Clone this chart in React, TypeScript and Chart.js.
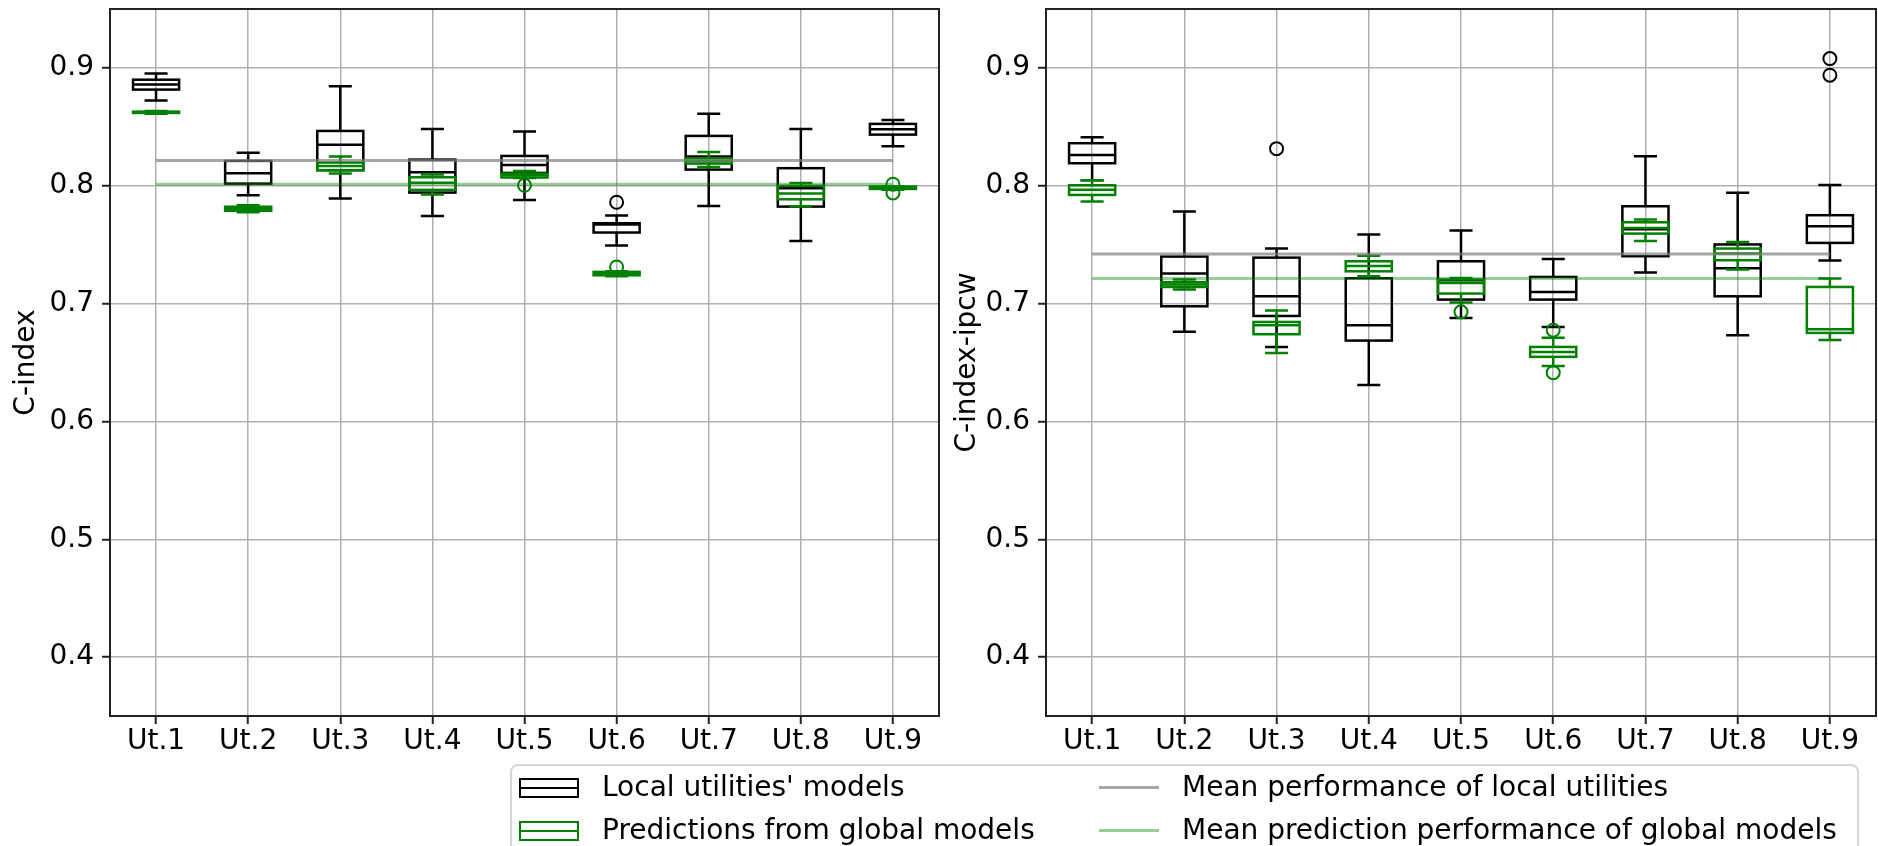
import React, { useEffect, useRef } from "react";
import { Chart, registerables } from "chart.js";
Chart.register(...registerables);

const LABELS = ["Ut.1", "Ut.2", "Ut.3", "Ut.4", "Ut.5", "Ut.6", "Ut.7", "Ut.8", "Ut.9"];
const Y_TICKS = [0.4, 0.5, 0.6, 0.7, 0.8, 0.9];

// ---- Left panel: C-index ----
// Local utilities' models (black)
const CI_LOCAL_LOW = [0.8723, 0.7919, 0.7891, 0.7744, 0.788, 0.7492, 0.7829, 0.7532, 0.8335];
const CI_LOCAL_Q1 = [0.8816, 0.8018, 0.8132, 0.7942, 0.8109, 0.7603, 0.8137, 0.7823, 0.8434];
const CI_LOCAL_MED = [0.8859, 0.8106, 0.8349, 0.8115, 0.8177, 0.7672, 0.8248, 0.7979, 0.848];
const CI_LOCAL_Q3 = [0.89, 0.8211, 0.8465, 0.8222, 0.8253, 0.7682, 0.8423, 0.8149, 0.8525];
const CI_LOCAL_HIGH = [0.8952, 0.8281, 0.8844, 0.8482, 0.846, 0.7747, 0.861, 0.8482, 0.8559];
const CI_LOCAL_OUT = [[], [], [], [], [], [0.786], [], [], []];
// Predictions from global models (green)
const CI_GLOBAL_LOW = [0.861, 0.7775, 0.8103, 0.7925, 0.8065, 0.7232, 0.816, 0.7823, 0.7967];
const CI_GLOBAL_Q1 = [0.8618, 0.7788, 0.8132, 0.7965, 0.807, 0.724, 0.8188, 0.7885, 0.7973];
const CI_GLOBAL_MED = [0.8624, 0.7802, 0.8168, 0.8025, 0.809, 0.7255, 0.8208, 0.7934, 0.7984];
const CI_GLOBAL_Q3 = [0.8629, 0.7822, 0.8197, 0.8072, 0.8103, 0.7269, 0.8231, 0.7999, 0.7993];
const CI_GLOBAL_HIGH = [0.8635, 0.7835, 0.8248, 0.8095, 0.8126, 0.7274, 0.8287, 0.8024, 0.7996];
const CI_GLOBAL_OUT = [[], [], [], [], [0.8004], [0.7311], [], [], [0.8013, 0.7939]];
const CI_MEAN_LOCAL = 0.8214;
const CI_MEAN_GLOBAL = 0.8013;

// ---- Right panel: C-index-ipcw ----
const IPCW_LOCAL_LOW = [0.8047, 0.676, 0.6632, 0.631, 0.6878, 0.6802, 0.7263, 0.6731, 0.7365];
const IPCW_LOCAL_Q1 = [0.8191, 0.6977, 0.6895, 0.6686, 0.7034, 0.7034, 0.7402, 0.7062, 0.7515];
const IPCW_LOCAL_MED = [0.8262, 0.7255, 0.7062, 0.6816, 0.7198, 0.7099, 0.763, 0.73, 0.7656];
const IPCW_LOCAL_Q3 = [0.8361, 0.7399, 0.739, 0.7215, 0.7359, 0.7226, 0.7826, 0.7502, 0.775];
const IPCW_LOCAL_HIGH = [0.8412, 0.7781, 0.7467, 0.7586, 0.762, 0.7379, 0.825, 0.7941, 0.8007];
const IPCW_LOCAL_OUT = [[], [], [0.8315], [], [], [], [], [], [0.8938, 0.9079]];
const IPCW_GLOBAL_LOW = [0.7866, 0.7119, 0.6581, 0.7232, 0.7009, 0.6471, 0.7532, 0.7289, 0.6692];
const IPCW_GLOBAL_Q1 = [0.7922, 0.7141, 0.674, 0.7274, 0.7085, 0.6548, 0.7594, 0.7368, 0.6751];
const IPCW_GLOBAL_MED = [0.7967, 0.7161, 0.6816, 0.732, 0.7175, 0.659, 0.7642, 0.7424, 0.6782];
const IPCW_GLOBAL_Q3 = [0.8004, 0.7181, 0.6844, 0.7359, 0.7204, 0.6632, 0.769, 0.7467, 0.7141];
const IPCW_GLOBAL_HIGH = [0.8047, 0.7204, 0.6941, 0.7407, 0.7218, 0.6711, 0.7713, 0.7522, 0.7212];
const IPCW_GLOBAL_OUT = [[], [], [], [], [0.693], [0.6774, 0.6414], [], [], []];
const IPCW_MEAN_LOCAL = 0.7421;
const IPCW_MEAN_GLOBAL = 0.7212;

const LOCAL_COLOR = "#000000";
const GLOBAL_COLOR = "#008000";
const MEAN_LOCAL_COLOR = "rgba(128,128,128,0.7)";
const MEAN_GLOBAL_COLOR = "rgba(0,128,0,0.4)";
const FONT = "'DejaVu Sans', sans-serif";

type Series = { low: number[]; q1: number[]; med: number[]; q3: number[]; high: number[]; out: number[][]; color: string };

type Panel = {
  title: string;
  local: Series;
  global: Series;
  meanLocal: number;
  meanGlobal: number;
  axisWidth: number;
  titlePad: number;
  padRight: number;
  canvasWidth: number;
};

const PANELS: Panel[] = [
  {
    title: "C-index",
    local: { low: CI_LOCAL_LOW, q1: CI_LOCAL_Q1, med: CI_LOCAL_MED, q3: CI_LOCAL_Q3, high: CI_LOCAL_HIGH, out: CI_LOCAL_OUT, color: LOCAL_COLOR },
    global: { low: CI_GLOBAL_LOW, q1: CI_GLOBAL_Q1, med: CI_GLOBAL_MED, q3: CI_GLOBAL_Q3, high: CI_GLOBAL_HIGH, out: CI_GLOBAL_OUT, color: GLOBAL_COLOR },
    meanLocal: CI_MEAN_LOCAL,
    meanGlobal: CI_MEAN_GLOBAL,
    axisWidth: 110,
    titlePad: 10,
    padRight: 11,
    canvasWidth: 950,
  },
  {
    title: "C-index-ipcw",
    local: { low: IPCW_LOCAL_LOW, q1: IPCW_LOCAL_Q1, med: IPCW_LOCAL_MED, q3: IPCW_LOCAL_Q3, high: IPCW_LOCAL_HIGH, out: IPCW_LOCAL_OUT, color: LOCAL_COLOR },
    global: { low: IPCW_GLOBAL_LOW, q1: IPCW_GLOBAL_Q1, med: IPCW_GLOBAL_MED, q3: IPCW_GLOBAL_Q3, high: IPCW_GLOBAL_HIGH, out: IPCW_GLOBAL_OUT, color: GLOBAL_COLOR },
    meanLocal: IPCW_MEAN_LOCAL,
    meanGlobal: IPCW_MEAN_GLOBAL,
    axisWidth: 96,
    titlePad: 1,
    padRight: 2,
    canvasWidth: 928,
  },
];

const BOX_WIDTH = 0.5; // fraction of category spacing
const LINE_W = 2.5;

function drawSeries(chart: any, s: Series) {
  const { ctx } = chart;
  const xs = chart.scales.x;
  const ys = chart.scales.y;
  const step = xs.getPixelForValue(2) - xs.getPixelForValue(1);
  const half = (step * BOX_WIDTH) / 2;
  const capHalf = half / 2;
  ctx.save();
  ctx.strokeStyle = s.color;
  ctx.lineWidth = LINE_W;
  ctx.lineCap = "butt";
  for (let i = 0; i < s.med.length; i++) {
    const cx = xs.getPixelForValue(i + 1);
    const yLow = ys.getPixelForValue(s.low[i]);
    const yQ1 = ys.getPixelForValue(s.q1[i]);
    const yMed = ys.getPixelForValue(s.med[i]);
    const yQ3 = ys.getPixelForValue(s.q3[i]);
    const yHigh = ys.getPixelForValue(s.high[i]);
    ctx.beginPath();
    ctx.moveTo(cx, yQ1);
    ctx.lineTo(cx, yLow);
    ctx.moveTo(cx, yQ3);
    ctx.lineTo(cx, yHigh);
    ctx.moveTo(cx - capHalf, yLow);
    ctx.lineTo(cx + capHalf, yLow);
    ctx.moveTo(cx - capHalf, yHigh);
    ctx.lineTo(cx + capHalf, yHigh);
    ctx.stroke();
    ctx.strokeRect(cx - half, yQ3, 2 * half, yQ1 - yQ3);
    ctx.beginPath();
    ctx.moveTo(cx - half, yMed);
    ctx.lineTo(cx + half, yMed);
    ctx.stroke();
  }
  ctx.restore();
}

function makePlugin(p: Panel) {
  return {
    id: "boxplots",
    beforeDatasetsDraw(chart: any) {
      const { ctx, chartArea } = chart;
      ctx.save();
      ctx.beginPath();
      ctx.rect(chartArea.left, chartArea.top, chartArea.right - chartArea.left, chartArea.bottom - chartArea.top);
      ctx.clip();
      drawSeries(chart, p.local);
      drawSeries(chart, p.global);
      ctx.restore();
    },
    afterDraw(chart: any) {
      const { ctx, chartArea } = chart;
      ctx.save();
      ctx.strokeStyle = "#222";
      ctx.lineWidth = 2;
      ctx.strokeRect(chartArea.left, chartArea.top, chartArea.right - chartArea.left, chartArea.bottom - chartArea.top);
      ctx.restore();
    },
  };
}

function outlierPoints(out: number[][]) {
  return out.flatMap((vals, i) => vals.map((v) => ({ x: i + 1, y: v })));
}

function zeroPadding(scale: any) {
  scale.paddingTop = 0;
  scale.paddingBottom = 0;
  scale.paddingLeft = 0;
  scale.paddingRight = 0;
}

function ChartPanel({ p, left }: { p: Panel; left: number }) {
  const ref = useRef<HTMLCanvasElement | null>(null);
  useEffect(() => {
    if (!ref.current) return;
    const n = LABELS.length;
    const chart = new Chart(ref.current, {
      type: "scatter",
      data: {
        datasets: [
          {
            label: "local outliers",
            data: outlierPoints(p.local.out),
            pointStyle: "circle",
            pointRadius: 6.5,
            borderWidth: 2,
            borderColor: LOCAL_COLOR,
            backgroundColor: "rgba(0,0,0,0)",
          },
          {
            label: "global outliers",
            data: outlierPoints(p.global.out),
            pointStyle: "circle",
            pointRadius: 6.5,
            borderWidth: 2,
            borderColor: GLOBAL_COLOR,
            backgroundColor: "rgba(0,0,0,0)",
          },
          {
            label: "Mean performance of local utilities",
            data: [
              { x: 1, y: p.meanLocal },
              { x: n, y: p.meanLocal },
            ],
            showLine: true,
            pointRadius: 0,
            borderWidth: 3,
            borderColor: MEAN_LOCAL_COLOR,
            backgroundColor: MEAN_LOCAL_COLOR,
          },
          {
            label: "Mean prediction performance of global models",
            data: [
              { x: 1, y: p.meanGlobal },
              { x: n, y: p.meanGlobal },
            ],
            showLine: true,
            pointRadius: 0,
            borderWidth: 3,
            borderColor: MEAN_GLOBAL_COLOR,
            backgroundColor: MEAN_GLOBAL_COLOR,
          },
        ],
      },
      options: {
        responsive: false,
        animation: false,
        devicePixelRatio: 1,
        layout: { autoPadding: false, padding: { left: 0, top: 9, right: p.padRight, bottom: 0 } },
        plugins: { legend: { display: false }, tooltip: { enabled: false } },
        scales: {
          x: {
            type: "linear",
            min: 0.5,
            max: n + 0.5,
            border: { display: false },
            grid: { color: "#b0b0b0", lineWidth: 1.5, drawTicks: true, tickLength: 8, tickColor: "#222", tickWidth: 2 },
            ticks: {
              color: "#000",
              font: { family: FONT, size: 28 },
              padding: 1,
              maxRotation: 0,
              autoSkip: false,
              callback: (v: any) => LABELS[Math.round(Number(v)) - 1] ?? "",
            },
            afterBuildTicks: (scale: any) => {
              scale.ticks = LABELS.map((_, i) => ({ value: i + 1 }));
            },
            afterFit: (scale: any) => {
              scale.height = 130;
              zeroPadding(scale);
            },
          },
          y: {
            type: "linear",
            min: 0.35,
            max: 0.95,
            border: { display: false },
            grid: { color: "#b0b0b0", lineWidth: 1.5, drawTicks: true, tickLength: 8, tickColor: "#222", tickWidth: 2 },
            ticks: {
              color: "#000",
              font: { family: FONT, size: 28 },
              padding: 8,
              callback: (v: any) => Number(v).toFixed(1),
            },
            afterBuildTicks: (scale: any) => {
              scale.ticks = Y_TICKS.map((v) => ({ value: v }));
            },
            afterFit: (scale: any) => {
              scale.width = p.axisWidth;
              zeroPadding(scale);
            },
            title: {
              display: true,
              text: p.title,
              color: "#000",
              font: { family: FONT, size: 28 },
              padding: { top: p.titlePad, bottom: 0 },
            },
          },
        },
      },
      plugins: [makePlugin(p)],
    } as any);
    return () => chart.destroy();
  }, [p]);
  return (
    <canvas
      ref={ref}
      width={p.canvasWidth}
      height={846}
      style={{ position: "absolute", left, top: 0, width: p.canvasWidth, height: 846 }}
    />
  );
}

const textStyle: React.CSSProperties = {
  position: "absolute",
  fontFamily: FONT,
  fontSize: 28,
  lineHeight: "34px",
  height: 34,
  color: "#000",
  whiteSpace: "nowrap",
};

function BoxHandle({ left, top, color }: { left: number; top: number; color: string }) {
  return (
    <div style={{ position: "absolute", left, top, width: 60, height: 20, border: `2px solid ${color}`, boxSizing: "border-box" }}>
      <div style={{ position: "absolute", left: 0, right: 0, top: 7, height: 2, background: color }} />
    </div>
  );
}

function LineHandle({ left, top, color }: { left: number; top: number; color: string }) {
  return <div style={{ position: "absolute", left, top, width: 60, height: 3, background: color }} />;
}

export default function App() {
  const LX = 510;
  const LY = 764;
  return (
    <div style={{ position: "fixed", left: 0, top: 0, width: 1878, height: 846, overflow: "hidden", background: "#fff" }}>
      <ChartPanel p={PANELS[0]} left={0} />
      <ChartPanel p={PANELS[1]} left={950} />
      <div
        style={{
          position: "absolute",
          left: LX,
          top: LY,
          width: 1859 - LX,
          height: 110,
          border: "2px solid #d6d6d6",
          borderRadius: 8,
          background: "rgba(255,255,255,0.8)",
          boxSizing: "border-box",
        }}
      >
        <BoxHandle left={519 - LX - 2} top={778 - LY - 2} color={LOCAL_COLOR} />
        <div style={{ ...textStyle, left: 602 - LX - 2, top: 787 - 17 - LY - 2 }}>Local utilities' models</div>
        <BoxHandle left={519 - LX - 2} top={821 - LY - 2} color={GLOBAL_COLOR} />
        <div style={{ ...textStyle, left: 602 - LX - 2, top: 830 - 17 - LY - 2 }}>Predictions from global models</div>
        <LineHandle left={1099 - LX - 2} top={786 - LY - 2} color={MEAN_LOCAL_COLOR} />
        <div style={{ ...textStyle, left: 1182 - LX - 2, top: 787 - 17 - LY - 2 }}>Mean performance of local utilities</div>
        <LineHandle left={1099 - LX - 2} top={829 - LY - 2} color={MEAN_GLOBAL_COLOR} />
        <div style={{ ...textStyle, left: 1182 - LX - 2, top: 830 - 17 - LY - 2 }}>Mean prediction performance of global models</div>
      </div>
    </div>
  );
}
